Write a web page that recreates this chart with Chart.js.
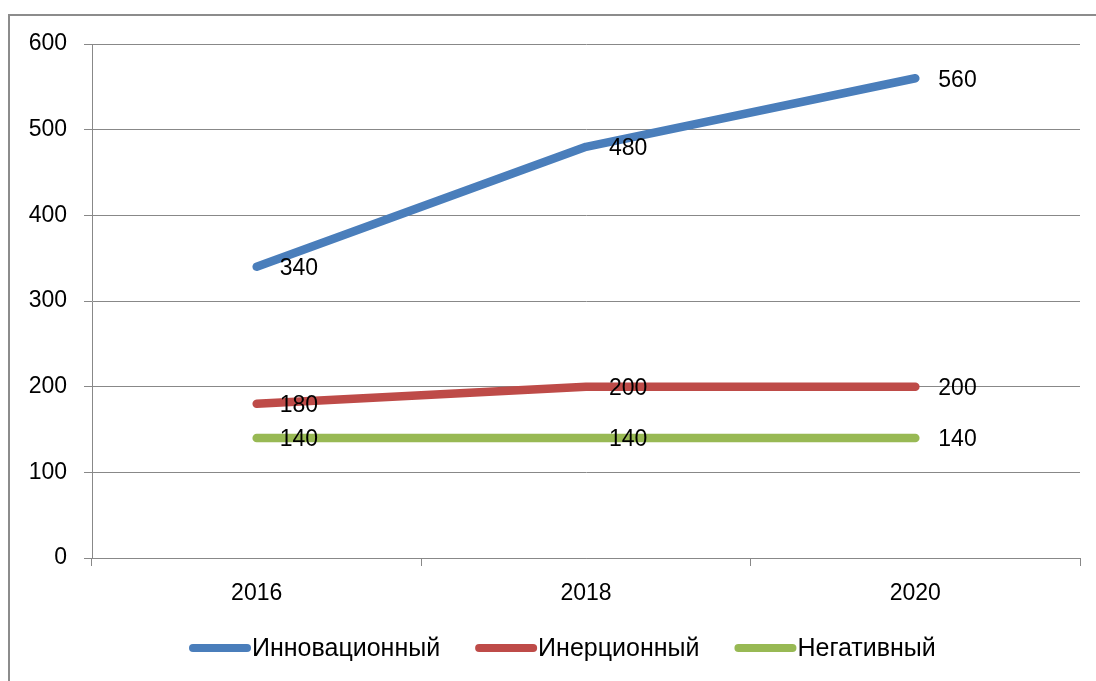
<!DOCTYPE html>
<html>
<head>
<meta charset="utf-8">
<script src="https://cdn.jsdelivr.net/npm/chart.js@4/dist/chart.umd.min.js"></script>
<style>
  html, body { margin: 0; padding: 0; background: #fff; overflow: hidden; }
  #wrap { position: relative; width: 1096px; height: 681px; }
  #frame { position: absolute; left: 8px; top: 14px; width: 1200px; height: 800px; border: 2px solid #8c8c8c; box-sizing: border-box; }
  canvas { position: absolute; left: 0; top: 0; }
</style>
</head>
<body>
<div id="wrap">
  <div id="frame"></div>
  <canvas id="myChart" width="1096" height="681"></canvas>
</div>
<script>
const years = ['2016', '2018', '2020'];
const innovative = [340, 480, 560];
const inertial = [180, 200, 200];
const negative = [140, 140, 140];
const seriesNames = ['Инновационный', 'Инерционный', 'Негативный'];
const seriesColors = ['#4a7ebb', '#be4b48', '#98b954'];
const yTicks = [0, 100, 200, 300, 400, 500, 600];

const FONT = "'Liberation Sans', Arial, sans-serif";
const axisGrey = '#888888';

// data labels to the right of each point
const valueLabels = {
  id: 'valueLabels',
  afterDatasetsDraw(chart) {
    const ctx = chart.ctx;
    ctx.save();
    ctx.font = '23px ' + FONT;
    ctx.fillStyle = '#000';
    ctx.textBaseline = 'middle';
    ctx.textAlign = 'left';
    chart.data.datasets.forEach((ds, i) => {
      chart.getDatasetMeta(i).data.forEach((pt, j) => {
        ctx.fillText(String(ds.data[j]), pt.x + 23, pt.y + 2);
      });
    });
    ctx.restore();
  }
};

// excel-like legend: thick line swatch right before the text
const bottomLegend = {
  id: 'bottomLegend',
  afterDraw(chart) {
    const ctx = chart.ctx;
    ctx.save();
    ctx.font = '25px ' + FONT;
    const sw = 62, gap = 1, between = 35;
    let x = 189;
    const y = 648;
    chart.data.datasets.forEach(ds => {
      ctx.strokeStyle = ds.borderColor;
      ctx.lineWidth = 8;
      ctx.lineCap = 'round';
      ctx.beginPath();
      ctx.moveTo(x + 4, y);
      ctx.lineTo(x + sw - 4, y);
      ctx.stroke();
      ctx.fillStyle = '#000';
      ctx.textBaseline = 'middle';
      ctx.fillText(ds.label, x + sw + gap, y + 1);
      x += sw + gap + ctx.measureText(ds.label).width + between;
    });
    ctx.restore();
  }
};

const makeSet = (label, data, color) => ({
  label: label,
  data: data,
  borderColor: color,
  backgroundColor: color,
  borderWidth: 8.5,
  borderCapStyle: 'round',
  borderJoinStyle: 'round',
  pointRadius: 0,
  tension: 0
});

new Chart(document.getElementById('myChart').getContext('2d'), {
  type: 'line',
  data: {
    labels: years,
    datasets: [
      makeSet(seriesNames[0], innovative, seriesColors[0]),
      makeSet(seriesNames[1], inertial, seriesColors[1]),
      makeSet(seriesNames[2], negative, seriesColors[2])
    ]
  },
  options: {
    responsive: false,
    animation: false,
    layout: { padding: { left: 10, right: 16, top: 44, bottom: 63 } },
    plugins: {
      legend: { display: false },
      tooltip: { enabled: false }
    },
    scales: {
      x: {
        offset: true,
        grid: {
          offset: true,
          drawOnChartArea: false,
          drawTicks: true,
          tickLength: 8,
          color: axisGrey,
          lineWidth: 1
        },
        border: { display: true, color: axisGrey, width: 1 },
        ticks: { color: '#000', font: { family: FONT, size: 23 }, padding: 14 },
        afterFit(scale) { scale.height = 60; }
      },
      y: {
        min: 0,
        max: 600,
        afterBuildTicks(scale) { scale.ticks = yTicks.map(v => ({ value: v })); },
        grid: { color: axisGrey, lineWidth: 1, tickLength: 8 },
        border: { display: true, color: axisGrey, width: 1 },
        ticks: { color: '#000', font: { family: FONT, size: 23 }, padding: 17 },
        afterFit(scale) { scale.width = 82; }
      }
    }
  },
  plugins: [valueLabels, bottomLegend]
});
</script>
</body>
</html>
